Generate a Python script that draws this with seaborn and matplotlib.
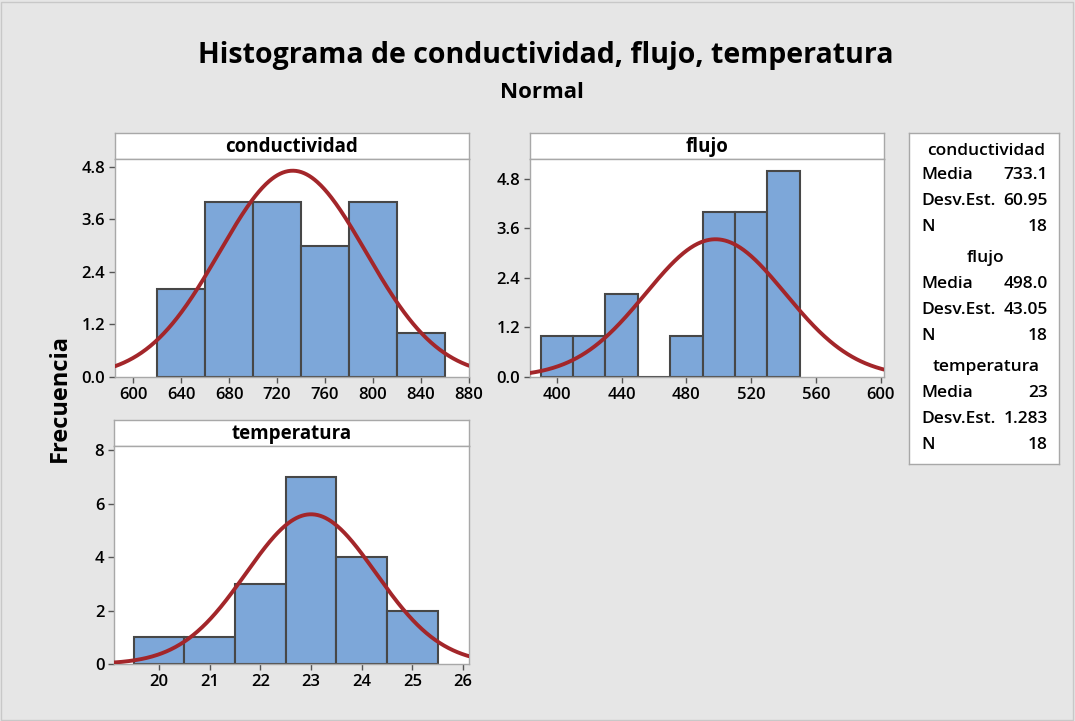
import numpy as np
import pandas as pd
import matplotlib
matplotlib.use("Agg")
import matplotlib.pyplot as plt
import seaborn as sns
from matplotlib.patches import Rectangle

# ---- data ----
cond_edges = [620, 660, 700, 740, 780, 820, 860]
cond_counts = [2, 4, 4, 3, 4, 1]
cond_mean, cond_sd, cond_n = 733.1, 60.95, 18

flujo_edges = [390, 410, 430, 450, 470, 490, 510, 530, 550]
flujo_counts = [1, 1, 2, 0, 1, 4, 4, 5]
flujo_mean, flujo_sd, flujo_n = 498.0, 43.05, 18

temp_edges = [19.5, 20.5, 21.5, 22.5, 23.5, 24.5, 25.5]
temp_counts = [1, 1, 3, 7, 4, 2]
temp_mean, temp_sd, temp_n = 23, 1.283, 18

cond_xticks = [600, 640, 680, 720, 760, 800, 840, 880]
cond_yticks = [0.0, 1.2, 2.4, 3.6, 4.8]
flujo_xticks = [400, 440, 480, 520, 560, 600]
flujo_yticks = [0.0, 1.2, 2.4, 3.6, 4.8]
temp_xticks = [20, 21, 22, 23, 24, 25, 26]
temp_yticks = [0, 2, 4, 6, 8]

stats_rows = [
    ("conductividad", None),
    ("Media", "733.1"), ("Desv.Est.", "60.95"), ("N", "18"),
    ("flujo", None),
    ("Media", "498.0"), ("Desv.Est.", "43.05"), ("N", "18"),
    ("temperatura", None),
    ("Media", "23"), ("Desv.Est.", "1.283"), ("N", "18"),
]

sns.set_theme(style="white")
plt.rcParams['font.family'] = ['Open Sans', 'DejaVu Sans']
plt.rcParams['text.color'] = 'black'
plt.rcParams['xtick.color'] = 'black'
plt.rcParams['ytick.color'] = 'black'

BG = "#e6e6e6"
BAR = "#7da7d9"
EDGE = "#474747"
CURVE = "#a3262a"
FRAME = "#a8a8a8"

W, H = 1075, 721
fig = plt.figure(figsize=(W / 100, H / 100), dpi=100)
fig.patch.set_facecolor(BG)
fig.patches.append(Rectangle((1 / W, 1 / H), 1 - 3 / W, 1 - 3 / H, transform=fig.transFigure,
                             fill=False, edgecolor="#c8c8c8", lw=1))


def px_axes(x0, y0, x1, y1):
    return fig.add_axes([x0 / W, 1 - y1 / H, (x1 - x0) / W, (y1 - y0) / H])


def panel(x0, ys, y0, x1, y1, title, edges, counts, mean, sd, n, xlim, ylim, xticks, yticks, yfmt):
    # strip
    sax = px_axes(x0, ys, x1, y0)
    sax.set_facecolor("white")
    sax.set_xticks([]); sax.set_yticks([])
    for s in sax.spines.values():
        s.set_color(FRAME); s.set_linewidth(1)
    sax.text(0.5, 0.48, title, ha="center", va="center", fontsize=13.5, fontweight="bold",
             transform=sax.transAxes)
    ax = px_axes(x0, y0, x1, y1)
    ax.set_facecolor("white")
    mids = [(a + b) / 2 for a, b in zip(edges[:-1], edges[1:])]
    df = pd.DataFrame({"x": mids, "w": counts})
    sns.histplot(data=df, x="x", weights="w", bins=edges, ax=ax, color=BAR, alpha=1,
                 edgecolor=EDGE, linewidth=1.5, zorder=2)
    bw = edges[1] - edges[0]
    xs = np.linspace(xlim[0], xlim[1], 400)
    ys_ = n * bw * np.exp(-0.5 * ((xs - mean) / sd) ** 2) / (sd * np.sqrt(2 * np.pi))
    sns.lineplot(x=xs, y=ys_, ax=ax, color=CURVE, lw=2.8, zorder=3)
    ax.set_xlim(*xlim); ax.set_ylim(*ylim)
    ax.set_xticks(xticks); ax.set_yticks(yticks)
    ax.set_xticklabels([str(t) for t in xticks])
    ax.set_yticklabels([yfmt.format(t) for t in yticks])
    ax.tick_params(axis="both", which="both", direction="out", length=4, width=1, color="#555555",
                   labelsize=12, pad=3, bottom=True, left=True, labelcolor="black")
    for lab in ax.get_xticklabels() + ax.get_yticklabels():
        lab.set_fontweight("semibold")
    ax.set_xlabel(""); ax.set_ylabel("")
    for s in ax.spines.values():
        s.set_color(FRAME); s.set_linewidth(1)
    return ax


panel(115, 133, 159, 469, 377, "conductividad", cond_edges, cond_counts, cond_mean, cond_sd, cond_n,
      (585, 880), (0, 4.98), cond_xticks, cond_yticks, "{:.1f}")
panel(530, 133, 159, 884, 377, "flujo", flujo_edges, flujo_counts, flujo_mean, flujo_sd, flujo_n,
      (383.5, 602), (0, 5.28), flujo_xticks, flujo_yticks, "{:.1f}")
panel(114, 420, 446, 469, 664, "temperatura", temp_edges, temp_counts, temp_mean, temp_sd, temp_n,
      (19.11, 26.12), (0, 8.15), temp_xticks, temp_yticks, "{:.0f}")

# titles
fig.text(546 / W, 1 - 55 / H, "Histograma de conductividad, flujo, temperatura", ha="center", va="center",
         fontsize=20.5, fontweight="bold")
fig.text(542 / W, 1 - 93 / H, "Normal", ha="center", va="center", fontsize=16, fontweight="bold")
fig.text(60 / W, 1 - 398 / H, "Frecuencia", ha="center", va="center", rotation=90, fontsize=17,
         fontweight="bold")

# stats box
bx = px_axes(909, 133, 1059, 464)
bx.set_facecolor("white")
bx.set_xticks([]); bx.set_yticks([])
bx.set_xlim(909, 1059); bx.set_ylim(464, 133)
for s in bx.spines.values():
    s.set_color(FRAME); s.set_linewidth(1)
row_y = [151, 175, 201, 227, 258, 284, 310, 336, 367, 393, 419, 445]
for (lab, val), y in zip(stats_rows, row_y):
    if val is None:
        bx.text(986, y, lab, ha="center", va="center", fontsize=12.5, fontweight="semibold")
    else:
        bx.text(921, y, lab, ha="left", va="center", fontsize=12.5, fontweight="semibold")
        bx.text(1048, y, val, ha="right", va="center", fontsize=12.5, fontweight="semibold")

fig.savefig("out.png", dpi=100, facecolor=BG)
